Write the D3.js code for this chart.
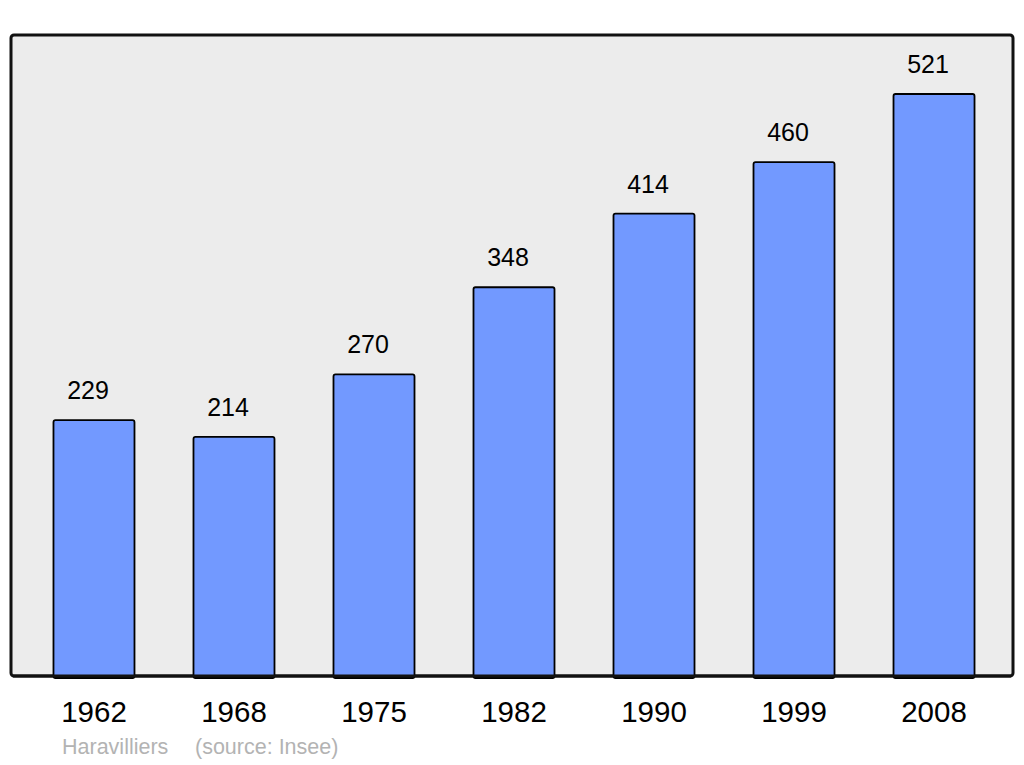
<!DOCTYPE html>
<html><head><meta charset="utf-8">
<script src="https://cdn.jsdelivr.net/npm/d3@7"></script>
<style>html,body{margin:0;padding:0;background:#fff;}svg{display:block;}</style>
</head><body>
<script>
const years = ["1962","1968","1975","1982","1990","1999","2008"];
const population = [229,214,270,348,414,460,521];
const place = "Haravilliers";
const source = "(source: Insee)";

const W = 1024, H = 765;
const svg = d3.select("body").append("svg").attr("width", W).attr("height", H);
const font = "'Liberation Sans', Arial, sans-serif";

const panel = {x0: 11, y0: 35, x1: 1013, y1: 676};
svg.append("rect").attr("x", panel.x0).attr("y", panel.y0)
  .attr("width", panel.x1 - panel.x0).attr("height", panel.y1 - panel.y0)
  .attr("rx", 3).attr("fill", "#ececec").attr("stroke", "#111").attr("stroke-width", 3);

const x = d3.scaleBand().domain(years).range([14, 1014]).paddingInner(0.4214).paddingOuter(0.282);
const y = d3.scaleLinear().domain([0, 521]).range([panel.y1, 94]);

const data = years.map((yr, i) => ({year: yr, value: population[i]}));

svg.selectAll("rect.bar").data(data).enter().append("rect").attr("class", "bar")
  .attr("x", d => x(d.year)).attr("y", d => y(d.value))
  .attr("width", x.bandwidth()).attr("height", d => panel.y1 - y(d.value) + 2)
  .attr("rx", 2).attr("fill", "#7299ff").attr("stroke", "#000").attr("stroke-width", 1.8);

// redraw bottom border over bars
svg.append("line").attr("x1", panel.x0 + 2).attr("x2", panel.x1 - 2)
  .attr("y1", panel.y1).attr("y2", panel.y1).attr("stroke", "#111").attr("stroke-width", 3);

svg.selectAll("text.val").data(data).enter().append("text").attr("class", "val")
  .attr("x", d => x(d.year) + x.bandwidth() / 2 - 6).attr("y", d => y(d.value) - 21)
  .attr("text-anchor", "middle").attr("font-family", font).attr("font-size", 25)
  .attr("fill", "#000").text(d => d.value);

const xAxis = d3.axisBottom(x).tickSize(0).tickPadding(0);
const gx = svg.append("g").attr("transform", `translate(0, ${panel.y1})`).call(xAxis);
gx.select(".domain").remove();
gx.selectAll("text").attr("font-family", font).attr("font-size", 29.5).attr("fill", "#000")
  .attr("dy", null).attr("y", 46);

svg.append("text").attr("x", 62).attr("y", 754).attr("font-family", font).attr("font-size", 21.5)
  .attr("fill", "#b3b3b3").text(place);
svg.append("text").attr("x", 195).attr("y", 754).attr("font-family", font).attr("font-size", 21.5)
  .attr("fill", "#b3b3b3").text(source);
</script>
</body></html>
